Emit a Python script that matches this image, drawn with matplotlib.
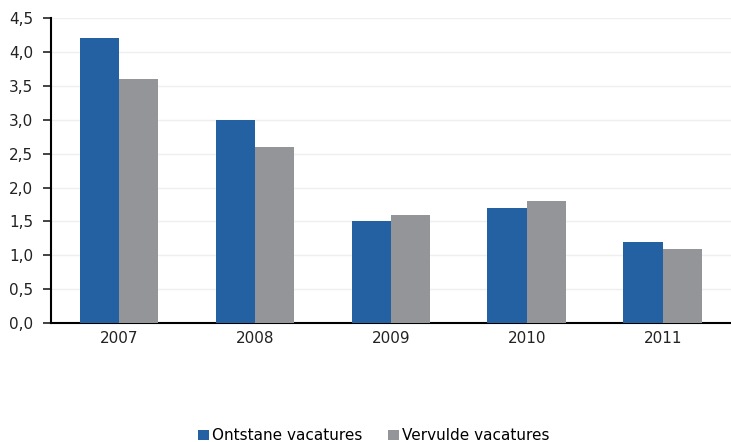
import numpy as np
import matplotlib.pyplot as plt
from matplotlib.ticker import FuncFormatter

years = ['2007', '2008', '2009', '2010', '2011']
ontstane = [4.2, 3.0, 1.5, 1.7, 1.2]
vervulde = [3.6, 2.6, 1.6, 1.8, 1.1]

blue = '#2361a2'
grey = '#939598'

fig = plt.figure(figsize=(7.31, 4.42), dpi=100)
ax = fig.add_axes([0.0698, 0.269, 0.93, 0.69])

x = np.arange(len(years))
w = 0.29
ax.bar(x - w / 2, ontstane, w, color=blue, label='Ontstane vacatures', zorder=3)
ax.bar(x + w / 2, vervulde, w, color=grey, label='Vervulde vacatures', zorder=3)

ax.set_xlim(-0.5, len(years) - 0.5)
ax.set_ylim(0, 4.5)
ax.set_yticks(np.arange(0, 4.51, 0.5))
ax.yaxis.set_major_formatter(FuncFormatter(lambda v, p: f'{v:.1f}'.replace('.', ',')))
ax.set_xticks(x)
ax.set_xticklabels(years)
ax.grid(axis='y', color='#efefef', linewidth=1, zorder=0)

for s in ['top', 'right']:
    ax.spines[s].set_visible(False)
for s in ['left', 'bottom']:
    ax.spines[s].set_linewidth(1.5)
    ax.spines[s].set_color('black')
ax.tick_params(axis='y', length=6, width=1.2, labelsize=11, colors='#222222', pad=7)
ax.tick_params(axis='x', length=0, labelsize=11, colors='#222222', pad=6)
for lbl in ax.get_xticklabels() + ax.get_yticklabels():
    lbl.set_color('#222222')

ax.legend(loc='center', bbox_to_anchor=(0.475, -0.37), ncol=2, frameon=False,
          fontsize=11, handlelength=0.7, handleheight=0.7, handletextpad=0.2,
          columnspacing=1.7)

fig.savefig('out.png', dpi=100)
